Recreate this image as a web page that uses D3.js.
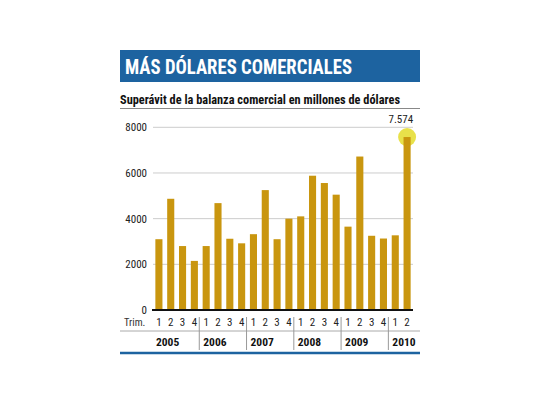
<!DOCTYPE html>
<html><head><meta charset="utf-8">
<script src="https://cdn.jsdelivr.net/npm/d3@7"></script>
<style>
body{margin:0;background:#fff;}
text{font-family:"Liberation Sans Narrow","Roboto Condensed","Liberation Sans",sans-serif;}
</style></head>
<body><svg id="c" width="540" height="405"></svg>
<script>
const years = ["2005","2006","2007","2008","2009","2010"];
const quarters = ["1","2","3","4","1","2","3","4","1","2","3","4","1","2","3","4","1","2","3","4","1","2"];
const values = [3100,4870,2800,2150,2800,4680,3120,2920,3320,5250,3100,4000,4100,5880,5560,5050,3650,6720,3250,3130,3270,7574];
const yTicks = [0,2000,4000,6000,8000];

const svg = d3.select('#c');
const plotLeft = 153, plotRight = 413, plotTop = 127.3, plotBottom = 310;

// title banner
svg.append('rect').attr('x',120).attr('y',50).attr('width',300).attr('height',32).attr('fill','#1d63a0');
svg.append('text').attr('x',125).attr('y',74).attr('fill','#fff').attr('font-size',20).attr('font-weight','bold')
  .attr('textLength',227).attr('lengthAdjust','spacingAndGlyphs')
  .text('MÁS DÓLARES COMERCIALES');
svg.append('text').attr('x',120).attr('y',104).attr('fill','#111').attr('font-size',13).attr('font-weight','bold')
  .attr('textLength',280).attr('lengthAdjust','spacingAndGlyphs')
  .text('Superávit de la balanza comercial en millones de dólares');
svg.append('line').attr('x1',120).attr('x2',420).attr('y1',108.5).attr('y2',108.5).attr('stroke','#888');

const x = d3.scaleBand().domain(d3.range(values.length)).range([plotLeft, plotRight]).paddingInner(0.4).paddingOuter(0.2);
const y = d3.scaleLinear().domain([0,8000]).range([plotBottom, plotTop]);

// grid
svg.append('g').selectAll('line').data(yTicks.filter(d => d > 0)).enter().append('line')
  .attr('x1',plotLeft).attr('x2',plotRight).attr('y1',d => y(d)).attr('y2',d => y(d))
  .attr('stroke','#ccc').attr('stroke-width',1);
svg.append('g').selectAll('text').data(yTicks).enter().append('text')
  .attr('x',147).attr('y',d => y(d) + 4).attr('text-anchor','end')
  .attr('font-size',11).attr('fill','#222').text(d => d);

// highlight circle
const last = values.length - 1;
svg.append('circle').attr('cx', x(last) + x.bandwidth()/2).attr('cy', y(values[last]))
  .attr('r', 9).attr('fill','#e4dc2a').attr('opacity',0.85);

// bars
svg.append('g').selectAll('rect').data(values).enter().append('rect')
  .attr('x',(d,i) => x(i)).attr('y',d => y(d)).attr('width',x.bandwidth()).attr('height',d => plotBottom - y(d))
  .attr('fill','#c9960f');

svg.append('text').attr('x', x(last) + x.bandwidth()/2 + 6).attr('y', y(values[last]) - 14)
  .attr('text-anchor','end').attr('font-size',11).attr('fill','#222').text('7.574');

// zero axis
svg.append('line').attr('x1',plotLeft - 1).attr('x2',plotRight).attr('y1',plotBottom).attr('y2',plotBottom)
  .attr('stroke','#111').attr('stroke-width',2);

// quarter labels
svg.append('text').attr('x',124).attr('y',326).attr('font-size',10.5).attr('fill','#333').text('Trim.');
svg.append('g').selectAll('text').data(quarters).enter().append('text')
  .attr('x',(d,i) => x(i) + x.bandwidth()/2).attr('y',326).attr('text-anchor','middle')
  .attr('font-size',11).attr('fill','#222').text(d => d);
svg.append('line').attr('x1',120).attr('x2',420).attr('y1',331).attr('y2',331).attr('stroke','#aaa');

// year groups
const step = x.step();
years.forEach((yr, k) => {
  const i0 = k * 4;
  const sx = x(i0) - (step - x.bandwidth())/2 - 1;
  if (k > 0) svg.append('line').attr('x1',sx).attr('x2',sx).attr('y1',317).attr('y2',350).attr('stroke','#999');
  svg.append('text').attr('x', sx + 4).attr('y',346).attr('font-size',11.5)
    .attr('font-weight','bold').attr('fill','#111').text(yr);
});
svg.append('line').attr('x1',120).attr('x2',420).attr('y1',353).attr('y2',353).attr('stroke','#1d63a0').attr('stroke-width',2.5);
</script></body></html>
